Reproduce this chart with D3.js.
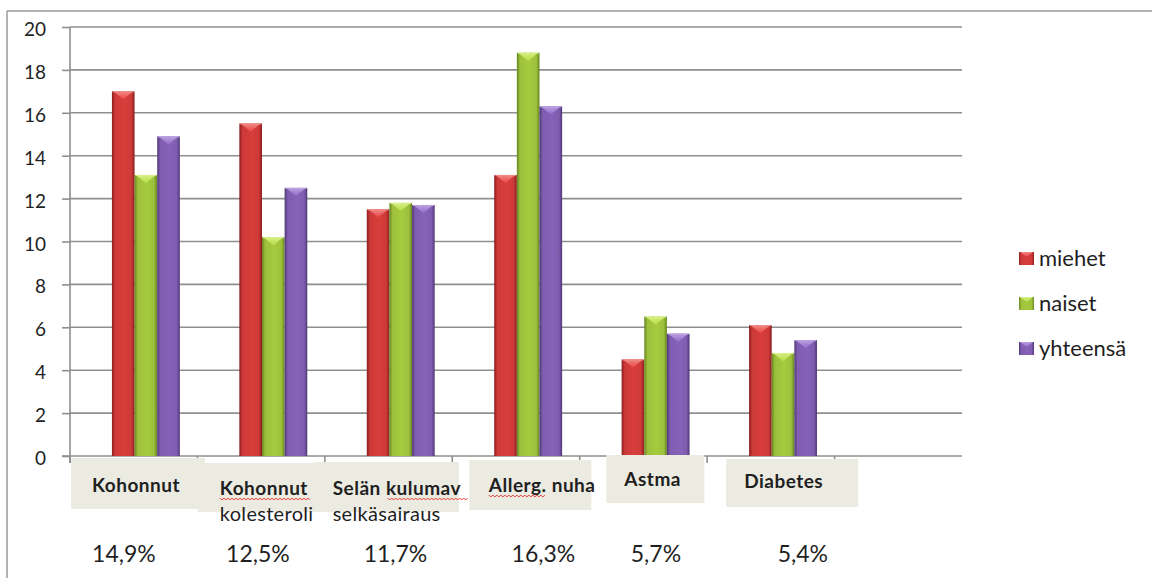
<!DOCTYPE html>
<html>
<head>
<meta charset="utf-8">
<script src="https://cdn.jsdelivr.net/npm/d3@7"></script>
<style>
  html, body { margin: 0; padding: 0; background: #ffffff; }
  svg { display: block; }
  text { font-family: Lato, "Open Sans", "DejaVu Sans", sans-serif; fill: #1f1f1f; }
</style>
</head>
<body>
<svg id="chart" width="1152" height="587"></svg>
<script>
// Chronic conditions by sex (%), with the overall share under each group
const categoryLines = [
  ["Kohonnut"],
  ["Kohonnut", "kolesteroli"],
  ["Selän kulumav", "selkäsairaus"],
  ["Allerg. nuha"],
  ["Astma"],
  ["Diabetes"]
];
const seriesNames = ["miehet", "naiset", "yhteensä"];
const miehet   = [17.0, 15.5, 11.5, 13.1, 4.5, 6.1];
const naiset   = [13.1, 10.2, 11.8, 18.8, 6.5, 4.8];
const yhteensa = [14.9, 12.5, 11.7, 16.3, 5.7, 5.4];
const totalLabels = ["14,9%", "12,5%", "11,7%", "16,3%", "5,7%", "5,4%"];
const yTickValues = [0, 2, 4, 6, 8, 10, 12, 14, 16, 18, 20];

const seriesValues = [miehet, naiset, yhteensa];

// palette: base, dark edge, light cap
const palette = [
  { base: "#cd3a38", edge: "#8a1c1c", cap: "#ee8a86" },
  { base: "#9cc03c", edge: "#66861f", cap: "#d6ef86" },
  { base: "#7f5daf", edge: "#4f3678", cap: "#b9a0e0" }
];

const svg = d3.select("#chart");
const defs = svg.append("defs");

palette.forEach((p, i) => {
  const g = defs.append("linearGradient").attr("id", "body" + i)
    .attr("x1", "0%").attr("x2", "100%").attr("y1", "0%").attr("y2", "0%");
  g.append("stop").attr("offset", "0%").attr("stop-color", p.edge);
  g.append("stop").attr("offset", "14%").attr("stop-color", p.base);
  g.append("stop").attr("offset", "55%").attr("stop-color", d3.color(p.base).brighter(0.15));
  g.append("stop").attr("offset", "86%").attr("stop-color", p.base);
  g.append("stop").attr("offset", "100%").attr("stop-color", p.edge);

  const c = defs.append("linearGradient").attr("id", "cap" + i)
    .attr("x1", "0%").attr("x2", "0%").attr("y1", "0%").attr("y2", "100%");
  c.append("stop").attr("offset", "0%").attr("stop-color", p.cap);
  c.append("stop").attr("offset", "100%").attr("stop-color", d3.color(p.base).brighter(0.4));
});

// plot geometry: seven slots, the last one left empty
const plot = { left: 70, right: 962, top: 27, bottom: 456 };
const slotCount = categoryLines.length + 1;

const x = d3.scaleBand()
  .domain(d3.range(slotCount))
  .range([plot.left, plot.right])
  .paddingInner(0).paddingOuter(0);

const bw = x.bandwidth();
// bars sit in the right part of each category slot
const xs = d3.scaleBand()
  .domain(d3.range(seriesNames.length))
  .range([bw * 0.329, bw * 0.862])
  .padding(0);

const y = d3.scaleLinear().domain([0, 20]).range([plot.bottom, plot.top]);

// outer frame (top and left edges visible)
svg.append("line").attr("x1", 7).attr("x2", 1152).attr("y1", 11).attr("y2", 11)
  .attr("stroke", "#9a9a9a").attr("stroke-width", 1.5);
svg.append("line").attr("x1", 7).attr("x2", 7).attr("y1", 11).attr("y2", 578)
  .attr("stroke", "#9a9a9a").attr("stroke-width", 1.5);

// gridlines
svg.append("g").selectAll("line")
  .data(yTickValues.filter(v => v > 0))
  .join("line")
  .attr("x1", plot.left).attr("x2", plot.right)
  .attr("y1", d => y(d)).attr("y2", d => y(d))
  .attr("stroke", "#8f8f8f").attr("stroke-width", 1.6);

// y axis
const yAxis = d3.axisLeft(y).tickValues(yTickValues).tickSize(8).tickPadding(16);
const gy = svg.append("g").attr("transform", `translate(${plot.left},0)`).call(yAxis);
gy.select(".domain").remove();
gy.selectAll(".tick line").attr("stroke", "#8f8f8f").attr("stroke-width", 1.6);
gy.selectAll(".tick text")
  .attr("font-size", 19).attr("font-family", "Lato, sans-serif")
  .attr("fill", "#1f1f1f").attr("dy", "0.45em");
svg.append("line").attr("x1", plot.left).attr("x2", plot.left)
  .attr("y1", plot.top).attr("y2", plot.bottom + 7)
  .attr("stroke", "#8f8f8f").attr("stroke-width", 1.6);

// x axis with ticks on slot boundaries (none at the far right end)
svg.append("line").attr("x1", plot.left - 8).attr("x2", plot.right)
  .attr("y1", plot.bottom).attr("y2", plot.bottom)
  .attr("stroke", "#8f8f8f").attr("stroke-width", 1.6);
svg.append("g").selectAll("line")
  .data(d3.range(slotCount))
  .join("line")
  .attr("x1", i => plot.left + i * bw).attr("x2", i => plot.left + i * bw)
  .attr("y1", plot.bottom).attr("y2", plot.bottom + 7)
  .attr("stroke", "#8f8f8f").attr("stroke-width", 1.6);

// bars
const barData = [];
categoryLines.forEach((_, ci) => {
  seriesValues.forEach((vals, si) => {
    barData.push({ ci, si, v: vals[ci] });
  });
});

const bars = svg.append("g").selectAll("g").data(barData).join("g");
bars.append("rect")
  .attr("x", d => x(d.ci) + xs(d.si))
  .attr("y", d => y(d.v))
  .attr("width", xs.bandwidth())
  .attr("height", d => y(0) - y(d.v))
  .attr("fill", d => `url(#body${d.si})`);
bars.append("path")
  .attr("d", d => {
    const x0 = x(d.ci) + xs(d.si), x1 = x0 + xs.bandwidth(), t = y(d.v);
    const cx = (x0 + x1) / 2, h = xs.bandwidth() * 0.36;
    return `M${x0 + 1.5},${t}L${x1 - 1.5},${t}L${cx},${t + h}Z`;
  })
  .attr("fill", d => `url(#cap${d.si})`);
bars.append("line")
  .attr("x1", d => x(d.ci) + xs(d.si) + 1)
  .attr("x2", d => x(d.ci) + xs(d.si) + xs.bandwidth() - 1)
  .attr("y1", d => y(d.v) + 0.5).attr("y2", d => y(d.v) + 0.5)
  .attr("stroke", d => palette[d.si].cap).attr("stroke-width", 1.2);

// category label boxes (offsets from each slot's left edge)
const boxLayout = [
  { dx: 1,    y: 458, w: 134, h: 51, tx: 22,   ty: 492, ty2: 0 },
  { dx: 0.4,  y: 463, w: 127, h: 49, tx: 22.4, ty: 495, ty2: 521 },
  { dx: -10,  y: 462, w: 144, h: 50, tx: 7.8,  ty: 495, ty2: 521 },
  { dx: 17,   y: 460, w: 122, h: 50, tx: 36.5, ty: 492, ty2: 0 },
  { dx: 26.6, y: 455, w: 98,  h: 48, tx: 44.6, ty: 486, ty2: 0 },
  { dx: 19,   y: 459, w: 132, h: 48, tx: 37,   ty: 488, ty2: 0 }
];

const labels = svg.append("g");
categoryLines.forEach((lines, i) => {
  const b = boxLayout[i];
  labels.append("rect")
    .attr("x", x(i) + b.dx).attr("y", b.y)
    .attr("width", b.w).attr("height", b.h)
    .attr("fill", "#ecebe2");
});
categoryLines.forEach((lines, i) => {
  const b = boxLayout[i];
  const tx = x(i) + b.tx;
  labels.append("text")
    .attr("x", tx).attr("y", b.ty)
    .attr("font-size", 19).attr("font-weight", "bold")
    .attr("letter-spacing", "0.5px")
    .text(lines[0]);
  if (lines[1]) {
    labels.append("text")
      .attr("x", tx).attr("y", b.ty2)
      .attr("font-size", 20).attr("letter-spacing", "0.3px")
      .text(lines[1]);
  }
});

// spell-check squiggles under a few words
function squiggle(x0, x1, yy) {
  const p = d3.path();
  p.moveTo(x0, yy);
  let k = 0;
  for (let xx = x0 + 2; xx <= x1; xx += 2) {
    p.lineTo(xx, yy + (k % 2 === 0 ? 2 : 0));
    k++;
  }
  return p.toString();
}
const squiggles = [
  { ci: 1, from: 22.4, to: 114, y: 498 },
  { ci: 2, from: 62.8, to: 143.8, y: 498 },
  { ci: 3, from: 36.5, to: 93.2, y: 495 }
];
svg.append("g").selectAll("path").data(squiggles).join("path")
  .attr("d", d => squiggle(x(d.ci) + d.from, x(d.ci) + d.to, d.y))
  .attr("fill", "none").attr("stroke", "#e23a3a").attr("stroke-width", 1);

// overall shares under each group
const pctCenters = [-9.8, -3.2, 6.9, 27.4, 12.5, 32];
svg.append("g").selectAll("text").data(totalLabels).join("text")
  .attr("x", (d, i) => x(i) + bw / 2 + pctCenters[i])
  .attr("y", 562)
  .attr("text-anchor", "middle")
  .attr("font-size", 23)
  .text(d => d);

// legend
const legend = svg.append("g").attr("transform", "translate(1019,252)");
const items = legend.selectAll("g").data(seriesNames).join("g")
  .attr("transform", (d, i) => `translate(0,${i * 45})`);
items.append("rect").attr("width", 15).attr("height", 13)
  .attr("fill", (d, i) => `url(#body${i})`);
items.append("path")
  .attr("d", "M1,0L14,0L7.5,5Z")
  .attr("fill", (d, i) => `url(#cap${i})`);
items.append("text")
  .attr("x", 20).attr("y", 14)
  .attr("font-size", 22)
  .text(d => d);
</script>
</body>
</html>
